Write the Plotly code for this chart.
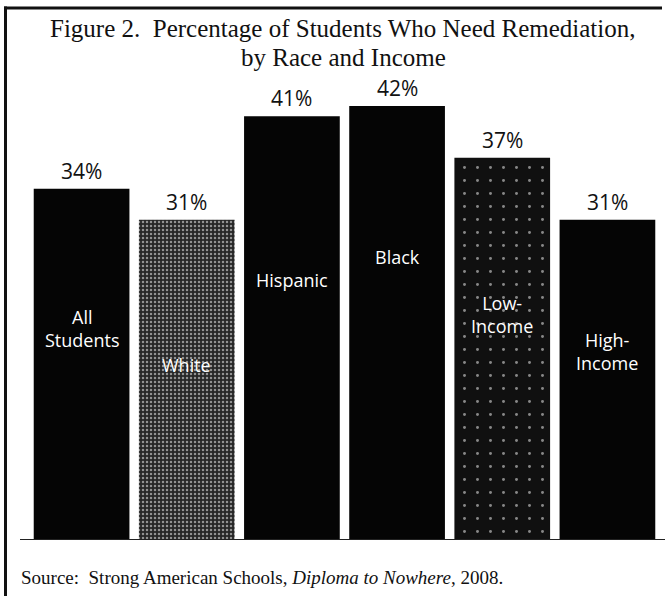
import plotly.graph_objects as go

# ---- data ----
categories = ["All Students", "White", "Hispanic", "Black", "Low-Income", "High-Income"]
inner_labels = ["All<br>Students", "White", "Hispanic", "Black", "Low-<br>Income", "High-<br>Income"]
values = [34, 31, 41, 42, 37, 31]
value_labels = ["34%", "31%", "41%", "42%", "37%", "31%"]

# ---- style ----
W, H = 665, 596
ML, MR, MT, MB = 29, 5, 44, 56
PW, PH = W - ML - MR, H - MT - MB
YMAX = 48.0
bar_colors = ["#050505", "#262626", "#050505", "#050505", "#101010", "#050505"]
inner_label_y = [20.5, 16.9, 25.2, 27.4, 21.8, 18.2]

def px_x(px):
    return (px - ML) / PW

def px_y(py):
    return (H - MB - py) / PH

fig = go.Figure()
fig.add_trace(go.Bar(
    x=categories,
    y=values,
    marker=dict(
        color=bar_colors,
        line=dict(width=0),
        pattern=dict(
            shape=["", ".", "", "", ".", ""],
            fgcolor=["#050505", "#7a7a7a", "#050505", "#050505", "#222222", "#050505"],
            size=[6, 4, 6, 6, 13, 6],
            solidity=[0.2, 0.3, 0.2, 0.2, 0.04, 0.2],
            fillmode="overlay",
        ),
    ),
    width=0.91,
    hoverinfo="skip",
))

annotations = []
for cat, v, lab in zip(categories, values, value_labels):
    annotations.append(dict(
        x=cat, y=v, text=lab, showarrow=False, xref="x", yref="y",
        yanchor="bottom", yshift=2,
        font=dict(family="Open Sans", size=21, color="#111111"),
    ))
for cat, lab, ly in zip(categories, inner_labels, inner_label_y):
    annotations.append(dict(
        x=cat, y=ly, text=lab, showarrow=False, xref="x", yref="y",
        yanchor="middle",
        font=dict(family="Open Sans", size=18, color="#ffffff"),
    ))

# title and source
annotations.append(dict(
    x=px_x(343), y=px_y(29), xref="paper", yref="paper", showarrow=False,
    text="Figure 2.  Percentage of Students Who Need Remediation,",
    font=dict(family="Liberation Serif", size=25, color="#111111"),
    xanchor="center", yanchor="middle",
))
annotations.append(dict(
    x=px_x(343), y=px_y(57), xref="paper", yref="paper", showarrow=False,
    text="by Race and Income",
    font=dict(family="Liberation Serif", size=25, color="#111111"),
    xanchor="center", yanchor="middle",
))
annotations.append(dict(
    x=px_x(19), y=px_y(577), xref="paper", yref="paper", showarrow=False,
    text="Source:  Strong American Schools, <i>Diploma to Nowhere</i>, 2008.",
    font=dict(family="Liberation Serif", size=19, color="#111111"),
    xanchor="left", yanchor="middle",
))

shapes = [
    # baseline
    dict(type="line", xref="paper", yref="y", x0=px_x(20), x1=px_x(665), y0=0, y1=0,
         line=dict(color="#222222", width=2)),
    # frame top edge
    dict(type="line", xref="paper", yref="paper",
         x0=px_x(4), x1=px_x(662), y0=px_y(8), y1=px_y(8),
         line=dict(color="#111111", width=3), layer="above"),
    # frame left edge
    dict(type="line", xref="paper", yref="paper",
         x0=px_x(5.5), x1=px_x(5.5), y0=px_y(6.5), y1=px_y(600),
         line=dict(color="#111111", width=3), layer="above"),
]

fig.update_layout(
    width=W, height=H,
    margin=dict(l=ML, r=MR, t=MT, b=MB),
    paper_bgcolor="#ffffff", plot_bgcolor="#ffffff",
    showlegend=False,
    bargap=0.09,
    xaxis=dict(visible=False, range=[-0.5, 5.5], fixedrange=True),
    yaxis=dict(visible=False, range=[0, YMAX], fixedrange=True),
    annotations=annotations,
    shapes=shapes,
)

fig.write_html(
    "out.html",
    config={"displayModeBar": False, "staticPlot": True},
    post_script="document.body.style.margin='0';document.body.style.padding='0';"
                "document.documentElement.style.overflow='hidden';window.scrollTo(0,0);",
)
